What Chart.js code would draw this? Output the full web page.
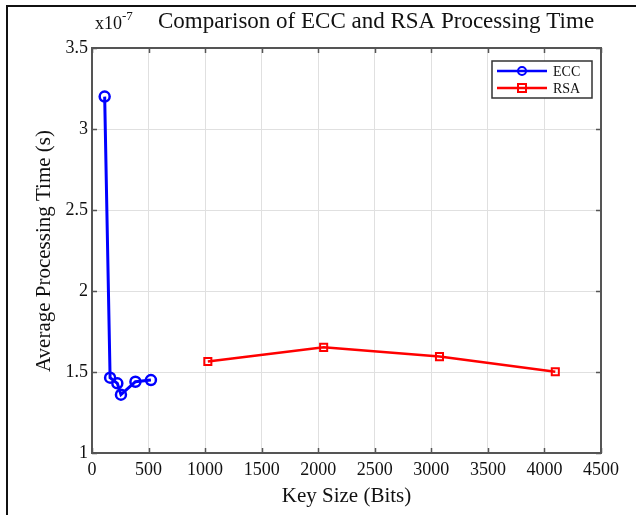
<!DOCTYPE html>
<html>
<head>
<meta charset="utf-8">
<script src="https://cdn.jsdelivr.net/npm/chart.js@4.4.1/dist/chart.umd.min.js"></script>
<style>
html,body{margin:0;padding:0;background:#fff;overflow:hidden;}
#frame{position:absolute;left:6px;top:5px;width:640px;height:508px;border-left:2px solid #111;border-top:2px solid #111;border-bottom:1px solid #999;}
#c{position:absolute;left:0;top:0;}
</style>
</head>
<body>
<div id="frame"></div>
<canvas id="c" width="636" height="515"></canvas>
<script>
// Data (time values in units of 1e-7 s)
const eccKeySizes = [112, 160, 224, 256, 384, 521];
const eccTimes = [3.2, 1.465, 1.43, 1.36, 1.44, 1.45];
const rsaKeySizes = [1024, 2048, 3072, 4096];
const rsaTimes = [1.565, 1.652, 1.595, 1.502];
const xTicks = [0, 500, 1000, 1500, 2000, 2500, 3000, 3500, 4000, 4500];
const yTicks = [1, 1.5, 2, 2.5, 3, 3.5];
const chartTitle = 'Comparison of ECC and RSA Processing Time';
const xTitle = 'Key Size (Bits)';
const yTitle = 'Average Processing Time (s)';
const seriesNames = ['ECC', 'RSA'];

const FONT = '"Liberation Serif", "Times New Roman", serif';

const toXY = (xs, ys) => xs.map((x, i) => ({x: x, y: ys[i]}));

const decor = {
  id: 'decor',
  beforeDatasetsDraw(chart) {
    const ctx = chart.ctx, a = chart.chartArea;
    const xs = chart.scales.x, ys = chart.scales.y;
    ctx.save();
    ctx.strokeStyle = '#555';
    ctx.lineWidth = 2;
    ctx.strokeRect(a.left, a.top, a.right - a.left, a.bottom - a.top);
    ctx.lineWidth = 1.5;
    ctx.beginPath();
    const tl = 5;
    xTicks.forEach(v => {
      const px = Math.round(xs.getPixelForValue(v)) + 0.5;
      ctx.moveTo(px, a.bottom); ctx.lineTo(px, a.bottom - tl);
      ctx.moveTo(px, a.top); ctx.lineTo(px, a.top + tl);
    });
    yTicks.forEach(v => {
      const py = Math.round(ys.getPixelForValue(v)) + 0.5;
      ctx.moveTo(a.left, py); ctx.lineTo(a.left + tl, py);
      ctx.moveTo(a.right, py); ctx.lineTo(a.right - tl, py);
    });
    ctx.stroke();
    ctx.restore();
  },
  afterDraw(chart) {
    const ctx = chart.ctx, a = chart.chartArea;
    ctx.save();
    ctx.fillStyle = '#111';
    // Title
    ctx.font = '23px ' + FONT;
    ctx.textAlign = 'center';
    ctx.textBaseline = 'middle';
    ctx.fillText(chartTitle, 376, 22);
    // multiplier
    ctx.textAlign = 'left';
    ctx.font = '18px ' + FONT;
    ctx.fillText('x10', 95, 24);
    const w = ctx.measureText('x10').width;
    ctx.font = '13px ' + FONT;
    ctx.fillText('-7', 95 + w, 17);
    // X title
    ctx.font = '21px ' + FONT;
    ctx.textAlign = 'center';
    ctx.fillText(xTitle, (a.left + a.right) / 2, 496);
    // Y title
    ctx.save();
    ctx.translate(44, 251);
    ctx.rotate(-Math.PI / 2);
    ctx.fillText(yTitle, 0, 0);
    ctx.restore();
    // Legend
    const lx = 492, ly = 61, lw = 100, lh = 37;
    ctx.fillStyle = '#fff';
    ctx.fillRect(lx, ly, lw, lh);
    ctx.strokeStyle = '#333';
    ctx.lineWidth = 1.5;
    ctx.strokeRect(lx, ly, lw, lh);
    const ds = chart.data.datasets;
    ds.forEach((d, i) => {
      const yy = ly + 10 + i * 17;
      ctx.strokeStyle = d.borderColor;
      ctx.lineWidth = 2.5;
      ctx.beginPath(); ctx.moveTo(lx + 5, yy); ctx.lineTo(lx + 55, yy); ctx.stroke();
      ctx.lineWidth = 2;
      ctx.beginPath();
      if (i === 0) { ctx.arc(lx + 30, yy, 4, 0, Math.PI * 2); }
      else { ctx.rect(lx + 26, yy - 4, 8, 8); }
      ctx.stroke();
      ctx.fillStyle = '#111';
      ctx.font = '14px ' + FONT;
      ctx.textAlign = 'left';
      ctx.fillText(seriesNames[i], lx + 61, yy + 1);
    });
    ctx.restore();
  }
};

new Chart(document.getElementById('c'), {
  type: 'line',
  data: {
    datasets: [
      {
        label: seriesNames[0],
        data: toXY(eccKeySizes, eccTimes),
        borderColor: '#0000ff',
        backgroundColor: 'rgba(0,0,0,0)',
        borderWidth: 3,
        pointStyle: 'circle',
        pointRadius: 5,
        pointBorderWidth: 2.5,
        pointBackgroundColor: 'rgba(0,0,0,0)',
        pointBorderColor: '#0000ff',
        tension: 0
      },
      {
        label: seriesNames[1],
        data: toXY(rsaKeySizes, rsaTimes),
        borderColor: '#ff0000',
        backgroundColor: 'rgba(0,0,0,0)',
        borderWidth: 2.5,
        pointStyle: 'rect',
        pointRadius: 5,
        pointBorderWidth: 2,
        pointBackgroundColor: 'rgba(0,0,0,0)',
        pointBorderColor: '#ff0000',
        tension: 0
      }
    ]
  },
  options: {
    responsive: false,
    animation: false,
    devicePixelRatio: 1,
    layout: {padding: {top: 48, right: 35, left: 0, bottom: 0}},
    plugins: {legend: {display: false}, title: {display: false}, tooltip: {enabled: false}},
    scales: {
      x: {
        type: 'linear',
        min: 0, max: 4500,
        afterBuildTicks: s => { s.ticks = xTicks.map(v => ({value: v})); },
        afterFit: s => { s.height = 62; },
        grid: {color: '#e0e0e0', lineWidth: 1, drawTicks: false},
        border: {display: false},
        ticks: {padding: 6, color: '#111', font: {family: FONT, size: 18}, maxRotation: 0, autoSkip: false,
                callback: v => String(v)}
      },
      y: {
        type: 'linear',
        min: 1, max: 3.5,
        afterBuildTicks: s => { s.ticks = yTicks.map(v => ({value: v})); },
        afterFit: s => { s.width = 92; },
        grid: {color: '#e0e0e0', lineWidth: 1, drawTicks: false},
        border: {display: false},
        ticks: {padding: 4, color: '#111', font: {family: FONT, size: 18}, autoSkip: false,
                callback: v => String(v)}
      }
    }
  },
  plugins: [decor]
});
</script>
</body>
</html>
